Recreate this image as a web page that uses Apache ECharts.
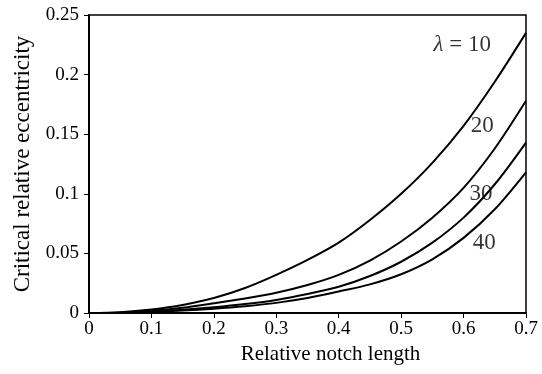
<!DOCTYPE html>
<html>
<head>
<meta charset="utf-8">
<script src="https://cdn.jsdelivr.net/npm/echarts@6/dist/echarts.min.js"></script>
<style>
  html, body { margin: 0; padding: 0; background: #fff; }
  #chart { width: 542px; height: 374px; }
</style>
</head>
<body>
<div id="chart"></div>
<script>
// relative notch length
const notch = [0, 0.05, 0.1, 0.15, 0.2, 0.25, 0.3, 0.35, 0.4, 0.45, 0.5, 0.55, 0.6, 0.65, 0.7];
// critical relative eccentricity for each lambda
const lam10 = [0, 0.0007, 0.003, 0.0068, 0.0126, 0.021, 0.032, 0.0445, 0.059, 0.078, 0.100, 0.126, 0.157, 0.194, 0.235];
const lam20 = [0, 0.0003, 0.0018, 0.0045, 0.0082, 0.0122, 0.017, 0.0235, 0.032, 0.044, 0.060, 0.080, 0.105, 0.138, 0.178];
const lam30 = [0, 0.0002, 0.0012, 0.0027, 0.0048, 0.0075, 0.011, 0.016, 0.022, 0.031, 0.043, 0.059, 0.080, 0.108, 0.143];
const lam40 = [0, 0.0001, 0.0009, 0.002, 0.0036, 0.0057, 0.0085, 0.0125, 0.018, 0.024, 0.0325, 0.045, 0.063, 0.087, 0.118];
const curveNames = ['λ = 10', '20', '30', '40'];
// curve labels: [x, y, text]
const labels = [
  [0.598, 0.225, '{i|λ} = 10'],
  [0.630, 0.157, '20'],
  [0.628, 0.100, '30'],
  [0.633, 0.059, '40']
];

const font = '"Liberation Serif", "DejaVu Serif", serif';
const chart = echarts.init(document.getElementById('chart'));

const pairs = (ys) => notch.map((x, i) => [x, ys[i]]);
const curves = [lam10, lam20, lam30, lam40].map((ys, i) => ({
  name: curveNames[i],
  type: 'line',
  data: pairs(ys),
  smooth: 0.3,
  showSymbol: false,
  silent: true,
  lineStyle: { color: '#000', width: 2 }
}));

chart.setOption({
  animation: false,
  backgroundColor: '#fff',
  grid: {
    left: 89, right: 16, top: 15, bottom: 61,
    show: true, borderColor: '#000', borderWidth: 1.5
  },
  xAxis: {
    type: 'value',
    min: 0, max: 0.7, interval: 0.1,
    name: 'Relative notch length',
    nameLocation: 'middle',
    nameGap: 31,
    nameTextStyle: { fontFamily: font, fontSize: 21, color: '#000', padding: [0, 0, 0, 46] },
    axisLine: { lineStyle: { color: '#000', width: 2 } },
    axisTick: { lineStyle: { color: '#000', width: 1 }, length: 5 },
    axisLabel: { fontFamily: font, fontSize: 19, color: '#000', margin: 7 },
    splitLine: { show: false }
  },
  yAxis: {
    type: 'value',
    min: 0, max: 0.25, interval: 0.05,
    name: 'Critical relative eccentricity',
    nameLocation: 'middle',
    nameGap: 53,
    nameTextStyle: { fontFamily: font, fontSize: 23, color: '#000' },
    axisLine: { show: true, lineStyle: { color: '#000', width: 2 } },
    axisTick: { show: true, lineStyle: { color: '#000', width: 1 }, length: 5 },
    axisLabel: { fontFamily: font, fontSize: 19, color: '#000', margin: 10 },
    splitLine: { show: false }
  },
  series: curves.concat([{
    type: 'scatter',
    data: labels,
    symbolSize: 0,
    silent: true,
    label: {
      show: true,
      position: 'inside',
      formatter: (p) => p.data[2],
      fontFamily: font,
      fontSize: 23,
      color: '#000',
      rich: {
        i: { fontFamily: font, fontSize: 23, fontStyle: 'italic', color: '#000' }
      }
    }
  }])
});
</script>
</body>
</html>
